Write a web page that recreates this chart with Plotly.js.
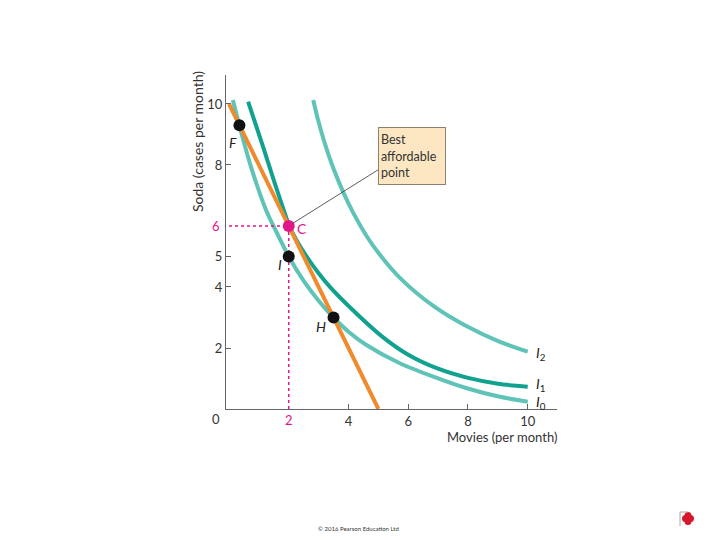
<!DOCTYPE html>
<html>
<head>
<meta charset="utf-8">
<script src="https://cdn.plot.ly/plotly-3.0.1.min.js"></script>
<style>
  html, body { margin: 0; padding: 0; background: #fff; }
  #chart { width: 720px; height: 540px; }
</style>
</head>
<body>
<div id="chart"></div>
<script>
// Indifference curves (movies, soda)
const i0Movies = [0.13, 0.4, 0.75, 1.25, 1.6, 2.0, 2.5, 3.0, 3.5, 4.04, 4.6, 5.72, 6.84, 7.96, 9.07, 10.0];
const i0Soda   = [10.13, 9.1, 7.9, 6.5, 5.78, 5.0, 4.2, 3.55, 3.0, 2.5, 2.1, 1.5, 1.06, 0.68, 0.4, 0.24];

const i1Movies = [0.64, 1.14, 1.55, 1.8, 2.0, 2.25, 2.6, 3.0, 3.4, 4.3, 5.16, 6.0, 7.0, 8.0, 9.0, 10.0];
const i1Soda   = [10.08, 8.6, 7.35, 6.62, 6.05, 5.55, 5.0, 4.45, 3.98, 3.1, 2.35, 1.78, 1.32, 1.02, 0.83, 0.73];

const i2Movies = [2.82, 2.98, 3.21, 3.49, 3.82, 4.16, 4.6, 5.0, 5.72, 6.84, 7.96, 9.07, 10.0];
const i2Soda   = [10.13, 9.48, 8.7, 7.9, 7.12, 6.43, 5.68, 5.12, 4.3, 3.38, 2.71, 2.2, 1.88];

// Budget line
const budgetMovies = [0, 5];
const budgetSoda   = [10, 0];

// Labelled points
const pointMovies = [0.35, 2, 3.5];
const pointSoda   = [9.3, 5, 3];
const bestMovies = 2;
const bestSoda = 6;

// Axis ticks
const xTicks = [4, 6, 8, 10];
const yTicks = [2, 4, 5, 8, 10];

const lightTeal = '#5fc3b7';
const darkTeal = '#10a28f';
const orange = '#ef8a2d';
const pink = '#e2168a';
const font = 'Lato, "Open Sans", sans-serif';

// plot area in pixels: left 226, right 557, top 75, bottom 409
const px = x => (x - 226) / 331;
const py = y => (409 - y) / 334;

const curve = (x, y, color) => ({
    x: x, y: y, type: 'scatter', mode: 'lines',
    line: { color: color, width: 4, shape: 'spline', smoothing: 0.8 },
    hoverinfo: 'skip', showlegend: false
});

const traces = [
    curve(i0Movies, i0Soda, lightTeal),
    curve(i2Movies, i2Soda, lightTeal),
    curve(i1Movies, i1Soda, darkTeal),
    {
        x: budgetMovies, y: budgetSoda, type: 'scatter', mode: 'lines',
        line: { color: orange, width: 4 }, showlegend: false
    },
    {
        x: [0, bestMovies], y: [bestSoda, bestSoda], type: 'scatter', mode: 'lines',
        line: { color: pink, width: 1.5, dash: 'dot' }, showlegend: false
    },
    {
        x: [bestMovies, bestMovies], y: [bestSoda, 0], type: 'scatter', mode: 'lines',
        line: { color: pink, width: 1.5, dash: 'dot' }, showlegend: false
    },
    {
        x: pointMovies, y: pointSoda, type: 'scatter', mode: 'markers',
        marker: { color: '#111', size: 12 }, showlegend: false
    },
    {
        x: [bestMovies], y: [bestSoda], type: 'scatter', mode: 'markers',
        marker: { color: pink, size: 12 }, showlegend: false
    }
];

const italic = t => '<i>' + t + '</i>';
const labelFont = { family: font, size: 14, color: '#222' };
const mid = { xanchor: 'center', yanchor: 'middle', showarrow: false };

const annotations = [
    // point labels
    { ...mid, x: 0.13, y: 8.75, text: italic('F'), font: labelFont },
    { ...mid, x: 2.45, y: 5.93, text: 'C', font: { family: font, size: 14, color: pink } },
    { ...mid, x: 1.7, y: 4.75, text: italic('I'), font: labelFont },
    { ...mid, x: 3.08, y: 2.69, text: italic('H'), font: labelFont },
    // curve labels
    { ...mid, x: 10.22, y: 1.82, text: italic('I') + '<sub>2</sub>', xanchor: 'left', font: labelFont },
    { ...mid, x: 10.22, y: 0.8, text: italic('I') + '<sub>1</sub>', xanchor: 'left', font: labelFont },
    { ...mid, x: 10.22, y: 0.22, text: italic('I') + '<sub>0</sub>', xanchor: 'left', font: labelFont },
    // pink tick labels and origin
    { ...mid, x: bestMovies, y: 0, yshift: -11, text: '2', font: { family: font, size: 13, color: pink } },
    { ...mid, xref: 'paper', x: px(222), y: bestSoda, xanchor: 'right', text: '6', font: { family: font, size: 13, color: pink } },
    { ...mid, xref: 'paper', yref: 'paper', x: px(216), y: py(419), text: '0', font: { family: font, size: 13, color: '#333' } },
    // callout
    {
        ...mid, x: 6.14, y: 8.31, text: 'Best<br>affordable<br>point',
        align: 'left', width: 62, height: 52, borderpad: 2,
        bgcolor: '#fde7c3', bordercolor: '#8f806e', borderwidth: 1,
        font: { family: font, size: 12.5, color: '#333' }
    },
    // axis titles
    {
        ...mid, xref: 'paper', yref: 'paper', x: px(197), y: py(142), textangle: -90,
        text: 'Soda (cases per month)',
        font: { family: font, size: 14, color: '#333' }
    },
    {
        ...mid, xref: 'paper', yref: 'paper', x: px(559), y: py(437), xanchor: 'right',
        text: 'Movies (per month)',
        font: { family: font, size: 13, color: '#333' }
    },
    // footer
    {
        ...mid, xref: 'paper', yref: 'paper', x: px(358), y: py(528),
        text: '© 2016 Pearson Education Ltd',
        font: { family: font, size: 6, color: '#333' }
    }
];

const shapes = [
    // leader line from C to the callout
    { type: 'line', x0: 2.14, y0: 6.09, x1: 4.99, y1: 7.84, line: { color: '#333', width: 0.8 } },
    // small red logo
    { type: 'circle', xref: 'paper', yref: 'paper', x0: px(682), x1: px(689), y0: py(515), y1: py(522), fillcolor: '#d7182a', line: { width: 0 } },
    { type: 'circle', xref: 'paper', yref: 'paper', x0: px(687), x1: px(694), y0: py(515), y1: py(522), fillcolor: '#d7182a', line: { width: 0 } },
    { type: 'circle', xref: 'paper', yref: 'paper', x0: px(684.5), x1: px(691.5), y0: py(512), y1: py(519), fillcolor: '#d7182a', line: { width: 0 } },
    { type: 'circle', xref: 'paper', yref: 'paper', x0: px(684.5), x1: px(691.5), y0: py(518), y1: py(525), fillcolor: '#d7182a', line: { width: 0 } },
    { type: 'line', xref: 'paper', yref: 'paper', x0: px(680), x1: px(680), y0: py(512), y1: py(526), line: { color: '#b0a5a5', width: 1 } },
    { type: 'line', xref: 'paper', yref: 'paper', x0: px(680), x1: px(688), y0: py(512), y1: py(512), line: { color: '#b0a5a5', width: 1 } }
];

const layout = {
    width: 720,
    height: 540,
    margin: { l: 226, r: 163, t: 75, b: 131 },
    paper_bgcolor: '#fff',
    plot_bgcolor: '#fff',
    font: { family: font, size: 13, color: '#333' },
    showlegend: false,
    xaxis: {
        range: [-0.1, 10.98],
        showgrid: false, zeroline: false,
        showline: true, linecolor: '#666', linewidth: 1,
        ticks: 'inside', ticklen: 5, tickcolor: '#666',
        tickvals: xTicks, ticktext: xTicks.map(String),
        tickfont: { family: font, size: 13, color: '#333' }
    },
    yaxis: {
        range: [0, 10.95],
        showgrid: false, zeroline: false,
        showline: true, linecolor: '#666', linewidth: 1,
        ticks: 'inside', ticklen: 5, tickcolor: '#666',
        tickvals: yTicks, ticktext: yTicks.map(String),
        tickfont: { family: font, size: 13, color: '#333' }
    },
    annotations: annotations,
    shapes: shapes
};

Plotly.newPlot('chart', traces, layout, { displayModeBar: false, staticPlot: true });
</script>
</body>
</html>
